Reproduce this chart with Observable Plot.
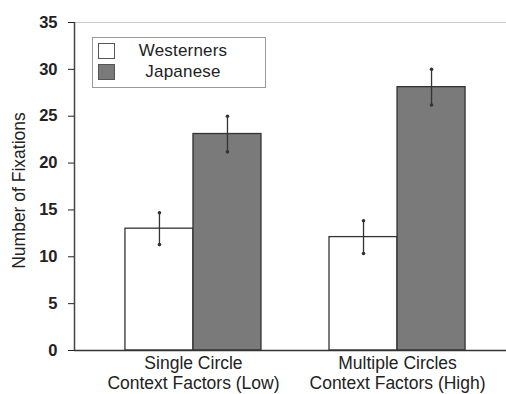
<!DOCTYPE html>
<html>
<head>
<meta charset="utf-8">
<script src="https://cdn.jsdelivr.net/npm/d3@7"></script>
<script src="https://cdn.jsdelivr.net/npm/@observablehq/plot@0.6"></script>
<style>
  body { margin: 0; background: #fff; }
  #wrap { position: relative; width: 506px; height: 394px; font-family: "Liberation Sans", Arial, sans-serif; }
  #legend { position: absolute; left: 92px; top: 37px; width: 174px; height: 51px; border: 1px solid #9a9a9a; background: #fff; box-sizing: border-box; }
  .row { position: absolute; left: 5px; height: 17px; width: 165px; }
  .sw { position: absolute; left: 0; top: 0; width: 17px; height: 16px; border: 1px solid #555; box-sizing: border-box; }
  .lab { position: absolute; left: 15px; width: 140px; text-align: center; font-size: 17px; letter-spacing: 0.2px; color: #222; top: -2px; }
</style>
</head>
<body>
<div id="wrap"></div>
<script>
const categories = ["Single Circle\nContext Factors (Low)", "Multiple Circles\nContext Factors (High)"];
const seriesNames = ["Westerners", "Japanese"];
const westerners = [13.0, 12.1];
const japanese = [23.1, 28.1];
const westernersErr = [1.7, 1.75];
const japaneseErr = [1.9, 1.9];
const yTicks = [0, 5, 10, 15, 20, 25, 30, 35];
const colors = ["#ffffff", "#7a7a7a"];

const values = [westerners, japanese];
const errs = [westernersErr, japaneseErr];
const half = 1 / 3;
const rows = [];
seriesNames.forEach((s, si) => {
  categories.forEach((c, ci) => {
    const x1 = si === 0 ? ci - half : ci;
    const x2 = si === 0 ? ci : ci + half;
    rows.push({series: s, cat: ci, x1, x2, xm: (x1 + x2) / 2, v: values[si][ci], lo: values[si][ci] - errs[si][ci], hi: values[si][ci] + errs[si][ci]});
  });
});

const plot = Plot.plot({
  width: 506,
  height: 394,
  marginLeft: 74,
  marginRight: 0,
  marginTop: 22,
  marginBottom: 44,
  style: {fontFamily: "Liberation Sans, Arial, sans-serif", background: "#fff"},
  x: {domain: [-0.583, 1.534], axis: null},
  y: {domain: [0, 35], axis: null},
  color: {domain: seriesNames, range: colors},
  marks: [
    Plot.ruleY([35], {stroke: "#c8c8c8", strokeWidth: 1.2}),
    Plot.rectY(rows, {x1: "x1", x2: "x2", y: "v", fill: "series", stroke: "#333", strokeWidth: 1.3}),
    Plot.ruleX(rows, {x: "xm", y1: "lo", y2: "hi", stroke: "#333", strokeWidth: 1.3}),
    Plot.dot(rows, {x: "xm", y: "lo", r: 1.8, fill: "#333"}),
    Plot.dot(rows, {x: "xm", y: "hi", r: 1.8, fill: "#333"}),
    Plot.ruleY([0], {stroke: "#333", strokeWidth: 1.5}),
    Plot.ruleX([-0.583], {y1: 0, y2: 35, stroke: "#444", strokeWidth: 1.5}),
    Plot.axisY({ticks: yTicks, tickSize: 6, tickPadding: 11, fontSize: 16.5, fontWeight: "bold", label: null, color: "#222"}),
    Plot.text(["Number of Fixations"], {frameAnchor: "left", textAnchor: "middle", rotate: -90, dx: -55, dy: 4, fontSize: 17.5, fill: "#222"}),
    Plot.axisX({ticks: [0, 1], tickFormat: (d) => categories[d], tickSize: 0, tickPadding: 5, fontSize: 17.5, lineHeight: 1.12, color: "#222", label: null})
  ]
});

const wrap = document.getElementById("wrap");
wrap.appendChild(plot);
const legend = document.createElement("div");
legend.id = "legend";
seriesNames.forEach((s, i) => {
  const row = document.createElement("div");
  row.className = "row";
  row.style.top = (5 + i * 21) + "px";
  const sw = document.createElement("div");
  sw.className = "sw";
  sw.style.background = colors[i];
  const lab = document.createElement("div");
  lab.className = "lab";
  lab.textContent = s;
  row.appendChild(sw);
  row.appendChild(lab);
  legend.appendChild(row);
});
wrap.appendChild(legend);
</script>
</body>
</html>
